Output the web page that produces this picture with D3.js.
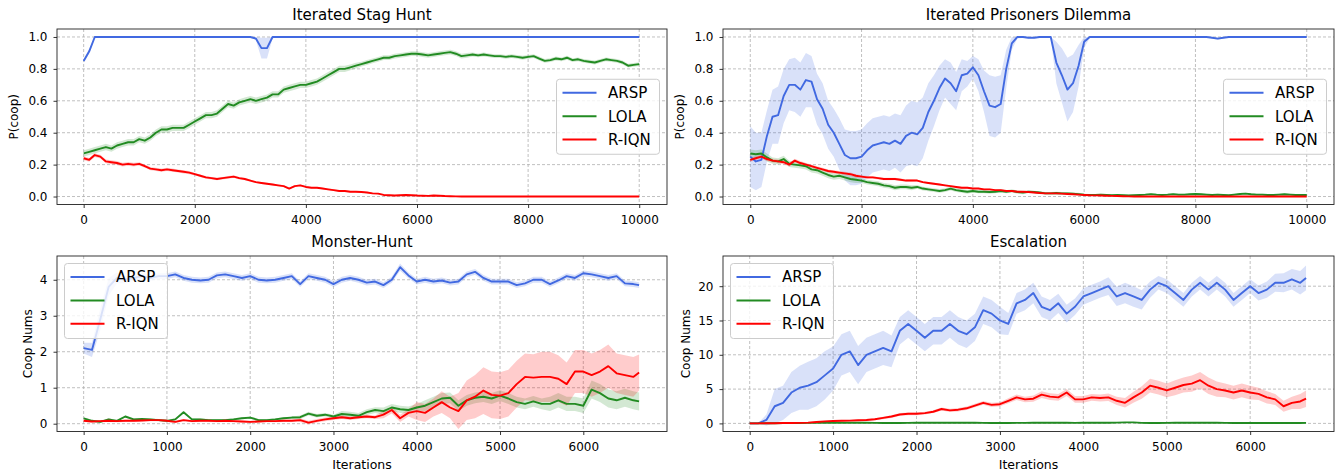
<!DOCTYPE html>
<html><head><meta charset="utf-8">
<script src="https://cdn.jsdelivr.net/npm/d3@7"></script>
<style>
body{margin:0;background:#fff}
text{font-family:"DejaVu Sans",sans-serif;fill:#000}
</style></head>
<body><svg id="c" width="1343" height="475"></svg>
<script>
const SERIES_NAMES = ["ARSP", "LOLA", "R-IQN"];
const COLORS = ["#4169e1", "#228b22", "#ff0000"];
const TITLES = ["Iterated Stag Hunt", "Iterated Prisoners Dilemma", "Monster-Hunt", "Escalation"];

// iterations (x)
const ITER_LONG = d3.range(0, 10001, 100);            // top row, 101 points
const ITER_SHORT = d3.range(0, 6601, 100).concat([6670]); // bottom row, 68 points

// ---------- Iterated Stag Hunt ----------
const STAG_ARSP = [
 0.85,0.91,1,1,1,1,1,1,1,1,
 1,1,1,1,1,1,1,1,1,1,
 1,1,1,1,1,1,1,1,1,1,
 1,0.99,0.93,0.93,1,1,1,1,1,1,
 1,1,1,1,1,1,1,1,1,1,
 1,1,1,1,1,1,1,1,1,1,
 1,1,1,1,1,1,1,1,1,1,
 1,1,1,1,1,1,1,1,1,1,
 1,1,1,1,1,1,1,1,1,1,
 1,1,1,1,1,1,1,1,1,1,
 1];
const STAG_ARSP_SD = [
 0.01,0.015,0.004,0,0,0,0,0,0,0,
 0,0,0,0,0,0,0,0,0,0,
 0,0,0,0,0,0,0,0,0,0,
 0,0.01,0.065,0.065,0.01,0,0,0,0,0,
 0,0,0,0,0,0,0,0,0,0,
 0,0,0,0,0,0,0,0,0,0,
 0,0,0,0,0,0,0,0,0,0,
 0,0,0,0,0,0,0,0,0,0,
 0,0,0,0,0,0,0,0,0,0,
 0,0,0,0,0,0,0,0,0,0,
 0];
const STAG_LOLA = [0.27,0.28,0.29,0.30,0.31,0.30,0.32,0.33,0.34,0.34,
 0.36,0.35,0.37,0.40,0.42,0.42,0.43,0.43,0.43,0.45,
 0.47,0.49,0.51,0.51,0.52,0.55,0.58,0.57,0.59,0.60,
 0.61,0.60,0.61,0.62,0.64,0.64,0.67,0.68,0.69,0.70,
 0.70,0.71,0.72,0.74,0.76,0.78,0.80,0.80,0.81,0.82,
 0.83,0.84,0.85,0.86,0.87,0.87,0.88,0.885,0.89,0.895,
 0.895,0.89,0.885,0.89,0.895,0.90,0.905,0.895,0.88,0.885,
 0.89,0.885,0.89,0.885,0.88,0.88,0.875,0.88,0.875,0.87,
 0.875,0.88,0.865,0.85,0.855,0.865,0.86,0.87,0.855,0.86,
 0.85,0.845,0.84,0.85,0.86,0.855,0.85,0.84,0.82,0.825,
 0.83];
const STAG_LOLA_SD = [0.02,0.02,0.02,0.02,0.02,0.02,0.02,0.02,0.02,0.02,
 0.02,0.02,0.02,0.02,0.02,0.02,0.02,0.02,0.02,0.02,
 0.02,0.02,0.02,0.02,0.02,0.02,0.02,0.02,0.02,0.02,
 0.02,0.02,0.02,0.02,0.02,0.02,0.02,0.02,0.02,0.02,
 0.02,0.02,0.02,0.02,0.02,0.02,0.02,0.02,0.018,0.018,
 0.015,0.015,0.015,0.015,0.015,0.015,0.015,0.015,0.015,0.015,
 0.015,0.015,0.015,0.015,0.015,0.015,0.015,0.015,0.015,0.015,
 0.012,0.012,0.012,0.012,0.012,0.012,0.012,0.012,0.012,0.012,
 0.012,0.012,0.012,0.012,0.012,0.012,0.012,0.012,0.012,0.012,
 0.012,0.012,0.012,0.012,0.012,0.012,0.012,0.012,0.012,0.012,
 0.012];
const STAG_RIQN = [0.24,0.23,0.26,0.25,0.22,0.215,0.21,0.20,0.205,0.20,
 0.205,0.19,0.175,0.17,0.165,0.17,0.165,0.16,0.155,0.15,
 0.14,0.13,0.12,0.115,0.11,0.115,0.12,0.125,0.115,0.11,
 0.10,0.09,0.085,0.08,0.075,0.07,0.065,0.05,0.065,0.07,
 0.06,0.055,0.055,0.05,0.045,0.04,0.035,0.035,0.03,0.03,
 0.028,0.025,0.02,0.018,0.01,0.008,0.006,0.008,0.01,0.008,
 0.006,0.005,0.004,0.006,0.005,0.003,0.002,0.001,0,0,
 0,0,0,0,0,0,0,0,0,0,
 0,0,0,0,0,0,0,0,0,0,
 0,0,0,0,0,0,0,0,0,0,
 0];
const STAG_RIQN_SD = [0.012,0.012,0.012,0.012,0.012,0.012,0.012,0.012,0.012,0.012,
 0.01,0.01,0.01,0.01,0.01,0.01,0.01,0.01,0.01,0.01,
 0.008,0.008,0.008,0.008,0.008,0.008,0.008,0.008,0.008,0.008,
 0.006,0.006,0.006,0.006,0.006,0.006,0.006,0.006,0.006,0.006,
 0.005,0.005,0.005,0.005,0.005,0.005,0.005,0.005,0.005,0.005,
 0.004,0.004,0.004,0.004,0.004,0.004,0.004,0.004,0.004,0.004,
 0.003,0.003,0.003,0.003,0.003,0.003,0.002,0.002,0,0,
 0,0,0,0,0,0,0,0,0,0,
 0,0,0,0,0,0,0,0,0,0,
 0,0,0,0,0,0,0,0,0,0,
 0];

// ---------- Iterated Prisoners Dilemma ----------
const IPD_ARSP = [0.25,0.22,0.23,0.38,0.50,0.51,0.63,0.70,0.70,0.67,
 0.73,0.72,0.61,0.55,0.45,0.40,0.33,0.26,0.24,0.24,
 0.25,0.29,0.32,0.33,0.34,0.33,0.35,0.33,0.38,0.40,
 0.39,0.43,0.53,0.60,0.68,0.74,0.71,0.66,0.76,0.77,
 0.81,0.76,0.66,0.57,0.56,0.58,0.80,0.96,1,1,
 0.995,0.995,1,1,1,0.84,0.76,0.67,0.71,0.82,
 0.97,1,1,1,1,1,1,1,1,1,
 1,1,1,1,1,1,1,1,1,1,
 1,1,1,0.995,0.99,0.995,1,1,1,1,
 1,1,1,1,1,1,1,1,1,1,
 1];
const IPD_ARSP_SD = [0.19,0.18,0.17,0.16,0.17,0.18,0.17,0.16,0.17,0.17,
 0.17,0.16,0.16,0.16,0.15,0.15,0.16,0.16,0.17,0.17,
 0.17,0.17,0.17,0.17,0.17,0.17,0.17,0.18,0.19,0.20,
 0.20,0.19,0.18,0.16,0.14,0.12,0.13,0.12,0.10,0.08,
 0.07,0.10,0.13,0.19,0.19,0.18,0.12,0.04,0.01,0.005,
 0.005,0.005,0.005,0.005,0.005,0.13,0.17,0.2,0.18,0.13,
 0.04,0.005,0,0,0,0,0,0,0,0,
 0,0,0,0,0,0,0,0,0,0,
 0,0,0,0.005,0.008,0.005,0,0,0,0,
 0,0,0,0,0,0,0,0,0,0,
 0];
const IPD_LOLA = [0.27,0.265,0.27,0.245,0.225,0.22,0.235,0.205,0.20,0.195,
 0.19,0.17,0.165,0.15,0.135,0.125,0.13,0.12,0.11,0.105,
 0.10,0.09,0.085,0.08,0.07,0.065,0.055,0.06,0.06,0.055,
 0.06,0.05,0.045,0.04,0.035,0.04,0.05,0.04,0.035,0.03,
 0.035,0.03,0.03,0.028,0.03,0.035,0.03,0.035,0.028,0.025,
 0.03,0.028,0.025,0.02,0.02,0.022,0.02,0.02,0.018,0.015,
 0.012,0.01,0.01,0.012,0.01,0.008,0.01,0.008,0.006,0.008,
 0.01,0.012,0.015,0.012,0.01,0.012,0.015,0.012,0.012,0.014,
 0.016,0.014,0.012,0.01,0.012,0.01,0.008,0.012,0.016,0.018,
 0.014,0.012,0.012,0.01,0.01,0.012,0.014,0.012,0.01,0.01,
 0.01];
const IPD_LOLA_SD = [0.025,0.025,0.025,0.025,0.02,0.02,0.02,0.02,0.02,0.02,
 0.02,0.02,0.02,0.02,0.02,0.02,0.02,0.02,0.02,0.02,
 0.015,0.015,0.015,0.015,0.015,0.015,0.015,0.015,0.015,0.015,
 0.012,0.012,0.012,0.012,0.012,0.012,0.012,0.012,0.012,0.012,
 0.01,0.01,0.01,0.01,0.01,0.01,0.01,0.01,0.01,0.01,
 0.008,0.008,0.008,0.008,0.008,0.008,0.008,0.008,0.008,0.008,
 0.006,0.006,0.006,0.006,0.006,0.006,0.006,0.006,0.006,0.006,
 0.006,0.006,0.006,0.006,0.006,0.006,0.006,0.006,0.006,0.006,
 0.006,0.006,0.006,0.006,0.006,0.006,0.006,0.006,0.006,0.006,
 0.006,0.006,0.006,0.006,0.006,0.006,0.006,0.006,0.006,0.006,
 0.006];
const IPD_RIQN = [0.23,0.24,0.25,0.235,0.225,0.22,0.215,0.20,0.225,0.21,
 0.20,0.19,0.18,0.17,0.16,0.155,0.15,0.145,0.14,0.13,
 0.125,0.12,0.12,0.115,0.11,0.11,0.11,0.105,0.10,0.10,
 0.10,0.09,0.085,0.08,0.075,0.07,0.065,0.06,0.055,0.055,
 0.05,0.05,0.045,0.045,0.04,0.04,0.035,0.035,0.03,0.03,
 0.028,0.025,0.022,0.02,0.02,0.02,0.018,0.016,0.014,0.012,
 0.01,0.008,0.007,0.006,0.005,0.004,0.003,0.002,0.001,0,
 0,0,0,0,0,0,0,0,0,0,
 0,0,0,0,0,0,0,0,0,0,
 0,0,0,0,0,0,0,0,0,0,
 0];
const IPD_RIQN_SD = [0.012,0.012,0.012,0.012,0.012,0.012,0.012,0.012,0.012,0.012,
 0.01,0.01,0.01,0.01,0.01,0.01,0.01,0.01,0.01,0.01,
 0.008,0.008,0.008,0.008,0.008,0.008,0.008,0.008,0.008,0.008,
 0.006,0.006,0.006,0.006,0.006,0.006,0.006,0.006,0.006,0.006,
 0.005,0.005,0.005,0.005,0.005,0.005,0.005,0.005,0.005,0.005,
 0.004,0.004,0.004,0.004,0.004,0.004,0.004,0.004,0.004,0.004,
 0.003,0.003,0.003,0.003,0.003,0.002,0.002,0.002,0.001,0,
 0,0,0,0,0,0,0,0,0,0,
 0,0,0,0,0,0,0,0,0,0,
 0,0,0,0,0,0,0,0,0,0,
 0];

// ---------- Monster-Hunt ----------
const MH_ARSP = [2.1,2.05,2.9,3.8,4.05,4.0,4.05,4.1,4.05,4.1,
 4.1,4.15,4.05,4.0,3.98,4.0,4.12,4.15,4.1,4.05,
 4.1,4.0,3.98,4.0,4.05,4.1,3.88,4.1,4.05,4.0,
 3.88,4.0,4.05,4.0,3.92,3.95,3.85,4.0,4.35,4.12,
 3.95,4.0,3.95,3.98,3.92,3.95,4.15,4.22,4.05,3.95,
 3.95,3.95,3.85,3.9,4.0,4.0,3.88,3.98,4.1,4.05,
 4.18,4.15,4.1,4.05,4.1,3.9,3.88,3.85];
const MH_ARSP_SD = [0.15,0.2,0.3,0.25,0.15,0.1,0.08,0.08,0.08,0.08,
 0.08,0.08,0.08,0.08,0.08,0.08,0.08,0.08,0.08,0.08,
 0.08,0.08,0.08,0.08,0.08,0.08,0.08,0.08,0.08,0.08,
 0.08,0.08,0.08,0.08,0.08,0.08,0.08,0.08,0.1,0.08,
 0.08,0.08,0.08,0.08,0.08,0.08,0.08,0.08,0.08,0.08,
 0.08,0.08,0.08,0.08,0.08,0.08,0.08,0.08,0.08,0.08,
 0.08,0.08,0.08,0.08,0.08,0.08,0.08,0.08];
const MH_LOLA = [0.15,0.08,0.05,0.12,0.08,0.2,0.12,0.13,0.12,0.1,
 0.08,0.12,0.32,0.12,0.12,0.1,0.1,0.1,0.12,0.15,
 0.17,0.1,0.1,0.12,0.15,0.17,0.18,0.28,0.22,0.25,
 0.2,0.27,0.25,0.22,0.32,0.38,0.35,0.45,0.4,0.38,
 0.45,0.5,0.6,0.7,0.72,0.5,0.65,0.72,0.75,0.7,
 0.78,0.7,0.6,0.55,0.62,0.55,0.55,0.65,0.55,0.55,
 0.5,0.95,0.85,0.7,0.65,0.72,0.65,0.62];
const MH_LOLA_SD = [0.03,0.03,0.03,0.03,0.03,0.03,0.03,0.03,0.03,0.03,
 0.03,0.03,0.03,0.03,0.03,0.03,0.03,0.03,0.03,0.03,
 0.03,0.03,0.03,0.03,0.03,0.03,0.05,0.05,0.05,0.05,
 0.05,0.08,0.08,0.08,0.08,0.08,0.1,0.1,0.1,0.1,
 0.1,0.15,0.15,0.15,0.15,0.15,0.15,0.15,0.15,0.15,
 0.15,0.15,0.15,0.15,0.15,0.15,0.2,0.2,0.2,0.2,
 0.2,0.25,0.25,0.25,0.25,0.25,0.25,0.25];
const MH_RIQN = [0.08,0.06,0.07,0.08,0.07,0.08,0.08,0.09,0.1,0.1,
 0.08,0.05,0.1,0.07,0.08,0.08,0.07,0.08,0.07,0.06,
 0.05,0.06,0.07,0.07,0.08,0.08,0.1,0.03,0.08,0.12,
 0.15,0.18,0.15,0.18,0.2,0.18,0.25,0.38,0.15,0.3,
 0.35,0.3,0.45,0.6,0.45,0.35,0.65,0.75,0.92,0.8,
 0.78,0.85,1.1,1.3,1.28,1.3,1.3,1.25,1.1,1.45,
 1.45,1.35,1.45,1.6,1.4,1.35,1.3,1.42];
const MH_RIQN_SD = [0.03,0.03,0.03,0.03,0.03,0.03,0.03,0.03,0.03,0.03,
 0.03,0.03,0.03,0.03,0.03,0.03,0.03,0.03,0.03,0.03,
 0.03,0.03,0.03,0.03,0.03,0.03,0.05,0.05,0.05,0.05,
 0.05,0.05,0.05,0.05,0.05,0.05,0.1,0.1,0.1,0.1,
 0.25,0.25,0.25,0.3,0.3,0.5,0.55,0.6,0.65,0.65,
 0.65,0.65,0.65,0.65,0.65,0.7,0.7,0.65,0.6,0.6,
 0.6,0.6,0.6,0.6,0.55,0.55,0.55,0.5];

// ---------- Escalation ----------
const ESC_ARSP = [0,0,0.5,2.5,3.0,4.5,5.2,5.5,6.0,7.0,
 8.0,10.0,10.5,8.5,10.0,10.5,11.0,10.5,13.5,14.5,
 13.5,12.5,13.5,13.5,14.5,13.5,13.0,14.0,16.5,16.0,
 15.0,14.5,17.5,18.0,19.0,17.0,16.5,17.5,16.0,17.0,
 18.5,19.0,19.5,20.0,18.5,19.0,18.5,18.0,19.5,20.5,
 20.0,19.0,18.0,19.5,20.5,19.5,20.5,19.5,18.0,19.0,
 20.0,19.0,19.5,20.5,20.5,21.0,20.5,21.2];
const ESC_ARSP_SD = [0,0,0.8,2.5,2.5,3.0,3.2,3.5,3.5,3.5,
 3.2,3.0,3.0,2.8,2.5,2.5,2.5,2.3,2.0,2.0,
 2.0,2.0,2.0,2.0,2.0,2.0,2.0,2.0,2.0,2.0,
 2.0,1.6,1.5,1.5,1.5,1.5,1.5,1.4,1.3,1.2,
 1.2,1.2,1.2,1.3,1.4,1.5,1.5,1.4,1.2,1.0,
 1.0,1.0,1.0,1.0,1.0,1.0,1.0,1.0,1.0,1.0,
 1.0,1.1,1.2,1.3,1.4,1.5,1.7,1.8];
const ESC_LOLA = [0,0.01,0.02,0.03,0.04,0.05,0.06,0.07,0.08,0.1,
 0.1,0.12,0.1,0.1,0.1,0.08,0.06,0.05,0.05,0.08,
 0.1,0.1,0.1,0.1,0.1,0.1,0.1,0.1,0.08,0.06,
 0.05,0.06,0.08,0.08,0.1,0.1,0.12,0.1,0.1,0.08,
 0.1,0.1,0.1,0.1,0.12,0.15,0.15,0.08,0.06,0.06,
 0.08,0.1,0.12,0.1,0.1,0.1,0.1,0.08,0.06,0.06,
 0.06,0.06,0.06,0.06,0.06,0.06,0.06,0.08];
const ESC_LOLA_SD = [0,0.01,0.02,0.03,0.03,0.03,0.03,0.03,0.03,0.03,
 0.03,0.03,0.03,0.03,0.03,0.03,0.03,0.03,0.03,0.03,
 0.03,0.03,0.03,0.03,0.03,0.03,0.03,0.03,0.03,0.03,
 0.03,0.03,0.03,0.03,0.03,0.03,0.03,0.03,0.03,0.03,
 0.03,0.03,0.03,0.03,0.03,0.03,0.03,0.03,0.03,0.03,
 0.03,0.03,0.03,0.03,0.03,0.03,0.03,0.03,0.03,0.03,
 0.03,0.03,0.03,0.03,0.03,0.03,0.03,0.03];
const ESC_RIQN = [0,0,0.02,0.03,0.05,0.05,0.08,0.12,0.2,0.3,
 0.35,0.38,0.4,0.45,0.5,0.6,0.8,1.0,1.3,1.4,
 1.4,1.5,1.7,2.1,1.9,2.0,2.2,2.6,3.0,2.7,
 2.8,3.3,3.8,3.5,3.6,4.2,3.9,3.8,4.5,3.5,
 3.5,3.8,3.7,3.8,3.3,3.0,3.8,4.5,5.5,5.2,
 4.8,5.2,5.6,5.8,6.3,5.5,5.0,4.8,4.5,4.8,
 4.5,4.3,3.8,3.5,2.5,3.0,3.2,3.6];
const ESC_RIQN_SD = [0,0.02,0.03,0.04,0.05,0.05,0.05,0.05,0.06,0.08,
 0.1,0.1,0.1,0.12,0.15,0.15,0.18,0.2,0.2,0.2,
 0.2,0.2,0.2,0.22,0.22,0.25,0.25,0.25,0.28,0.3,
 0.3,0.35,0.4,0.4,0.45,0.5,0.5,0.5,0.5,0.5,
 0.5,0.5,0.5,0.55,0.6,0.7,0.8,0.9,1.0,1.0,
 1.0,1.1,1.1,1.2,1.2,1.2,1.1,1.0,1.0,1.0,
 1.0,0.9,0.9,0.8,0.8,0.9,1.1,1.2];

const Y_TICKS_PROB = [0, 0.2, 0.4, 0.6, 0.8, 1.0];
const Y_TICKS_MH = [0, 1, 2, 3, 4];
const Y_TICKS_ESC = [0, 5, 10, 15, 20];
const X_TICKS_LONG = [0, 2000, 4000, 6000, 8000, 10000];
const X_TICKS_SHORT = [0, 1000, 2000, 3000, 4000, 5000, 6000];

const panels = [
  {title: TITLES[0], ylabel: "P(coop)", xlabel: null, x: ITER_LONG,
   series: [[STAG_ARSP, STAG_ARSP_SD], [STAG_LOLA, STAG_LOLA_SD], [STAG_RIQN, STAG_RIQN_SD]],
   box: {l: 57, t: 29, r: 667, b: 204.5}, xdom: [-480, 10500], ydom: [-0.05, 1.05],
   xticks: X_TICKS_LONG, yticks: Y_TICKS_PROB, yfmt: d3.format(".1f"), legend: "right", clamp: [0, 1], ylabX: 14},
  {title: TITLES[1], ylabel: "P(coop)", xlabel: null, x: ITER_LONG,
   series: [[IPD_ARSP, IPD_ARSP_SD], [IPD_LOLA, IPD_LOLA_SD], [IPD_RIQN, IPD_RIQN_SD]],
   box: {l: 723, t: 29, r: 1334, b: 204.5}, xdom: [-490, 10490], ydom: [-0.05, 1.05],
   xticks: X_TICKS_LONG, yticks: Y_TICKS_PROB, yfmt: d3.format(".1f"), legend: "right", clamp: [0, 1], ylabX: 680},
  {title: TITLES[2], ylabel: "Coop Nums", xlabel: "Iterations", x: ITER_SHORT,
   series: [[MH_ARSP, MH_ARSP_SD], [MH_LOLA, MH_LOLA_SD], [MH_RIQN, MH_RIQN_SD]],
   box: {l: 57, t: 256, r: 667, b: 431.5}, xdom: [-320, 7005], ydom: [-0.217, 4.66],
   xticks: X_TICKS_SHORT, yticks: Y_TICKS_MH, yfmt: d3.format("d"), legend: "upperleft", clamp: null, ylabX: 28},
  {title: TITLES[3], ylabel: "Coop Nums", xlabel: "Iterations", x: ITER_SHORT,
   series: [[ESC_ARSP, ESC_ARSP_SD], [ESC_LOLA, ESC_LOLA_SD], [ESC_RIQN, ESC_RIQN_SD]],
   box: {l: 723, t: 256, r: 1334, b: 431.5}, xdom: [-320, 7005], ydom: [-1.18, 24.4],
   xticks: X_TICKS_SHORT, yticks: Y_TICKS_ESC, yfmt: d3.format("d"), legend: "upperleft", clamp: null, ylabX: 686}
];

const svg = d3.select("#c");

panels.forEach((p, pi) => {
  const B = p.box;
  const x = d3.scaleLinear().domain(p.xdom).range([B.l, B.r]);
  const y = d3.scaleLinear().domain(p.ydom).range([B.b, B.t]);
  const g = svg.append("g");

  // grid
  const grid = g.append("g").attr("stroke", "#b0b0b0").attr("stroke-width", 0.8).attr("stroke-dasharray", "3,2");
  p.xticks.forEach(t => grid.append("line").attr("x1", x(t)).attr("x2", x(t)).attr("y1", B.t).attr("y2", B.b));
  p.yticks.forEach(t => grid.append("line").attr("x1", B.l).attr("x2", B.r).attr("y1", y(t)).attr("y2", y(t)));

  const clipId = "clip" + pi;
  svg.append("clipPath").attr("id", clipId).append("rect")
    .attr("x", B.l).attr("y", B.t).attr("width", B.r - B.l).attr("height", B.b - B.t);
  const plot = g.append("g").attr("clip-path", `url(#${clipId})`);

  const cl = v => p.clamp ? Math.max(p.clamp[0], Math.min(p.clamp[1], v)) : v;

  p.series.forEach(([m, sd], si) => {
    const pts = p.x.map((xv, i) => ({x: xv, m: m[i], lo: cl(m[i] - sd[i]), hi: cl(m[i] + sd[i])}));
    plot.append("path").datum(pts)
      .attr("fill", COLORS[si]).attr("fill-opacity", 0.2).attr("stroke", "none")
      .attr("d", d3.area().x(d => x(d.x)).y0(d => y(d.lo)).y1(d => y(d.hi)));
  });
  p.series.forEach(([m, sd], si) => {
    const pts = p.x.map((xv, i) => ({x: xv, m: m[i]}));
    plot.append("path").datum(pts)
      .attr("fill", "none").attr("stroke", COLORS[si]).attr("stroke-width", 1.9)
      .attr("stroke-linejoin", "round")
      .attr("d", d3.line().x(d => x(d.x)).y(d => y(d.m)));
  });

  // axes
  const xa = g.append("g").attr("transform", `translate(0,${B.b})`)
    .call(d3.axisBottom(x).tickValues(p.xticks).tickFormat(d3.format("d")).tickSize(3.5).tickPadding(7));
  const ya = g.append("g").attr("transform", `translate(${B.l},0)`)
    .call(d3.axisLeft(y).tickValues(p.yticks).tickFormat(p.yfmt).tickSize(3.5).tickPadding(6));
  [xa, ya].forEach(a => {
    a.select(".domain").remove();
    a.selectAll("text").attr("font-size", "12px").attr("font-family", "DejaVu Sans").attr("fill", "#000");
    a.selectAll("line").attr("stroke", "#000").attr("stroke-width", 0.8);
  });

  // frame
  g.append("rect").attr("x", B.l).attr("y", B.t).attr("width", B.r - B.l).attr("height", B.b - B.t)
    .attr("fill", "none").attr("stroke", "#222").attr("stroke-width", 0.9);

  // title
  g.append("text").attr("x", (B.l + B.r) / 2).attr("y", B.t - 9).attr("text-anchor", "middle")
    .attr("font-size", "15px").text(p.title);
  // y label
  g.append("text").attr("transform", `translate(${p.ylabX},${(B.t + B.b) / 2}) rotate(-90)`)
    .attr("text-anchor", "middle").attr("dy", "0.35em").attr("font-size", "12px").text(p.ylabel);
  // x label
  if (p.xlabel) {
    g.append("text").attr("x", (B.l + B.r) / 2).attr("y", 469).attr("text-anchor", "middle")
      .attr("font-size", "12.5px").text(p.xlabel);
  }

  // legend
  const LW = 103, LH = 75;
  let lx, ly;
  if (p.legend === "right") { lx = B.r - 7.5 - LW; ly = (B.t + B.b) / 2 - LH / 2; }
  else { lx = B.l + 7.5; ly = B.t + 7.5; }
  const lg = g.append("g").attr("transform", `translate(${lx},${ly})`);
  lg.append("rect").attr("width", LW).attr("height", LH).attr("rx", 3)
    .attr("fill", "#fff").attr("fill-opacity", 0.8).attr("stroke", "#cccccc").attr("stroke-width", 1);
  SERIES_NAMES.forEach((n, i) => {
    const yy = 13.5 + i * 23.4;
    lg.append("line").attr("x1", 6).attr("x2", 40).attr("y1", yy).attr("y2", yy)
      .attr("stroke", COLORS[i]).attr("stroke-width", 2);
    lg.append("text").attr("x", 51.5).attr("y", yy).attr("dy", "0.36em").attr("font-size", "15px").text(n);
  });
});
</script>
</body></html>
